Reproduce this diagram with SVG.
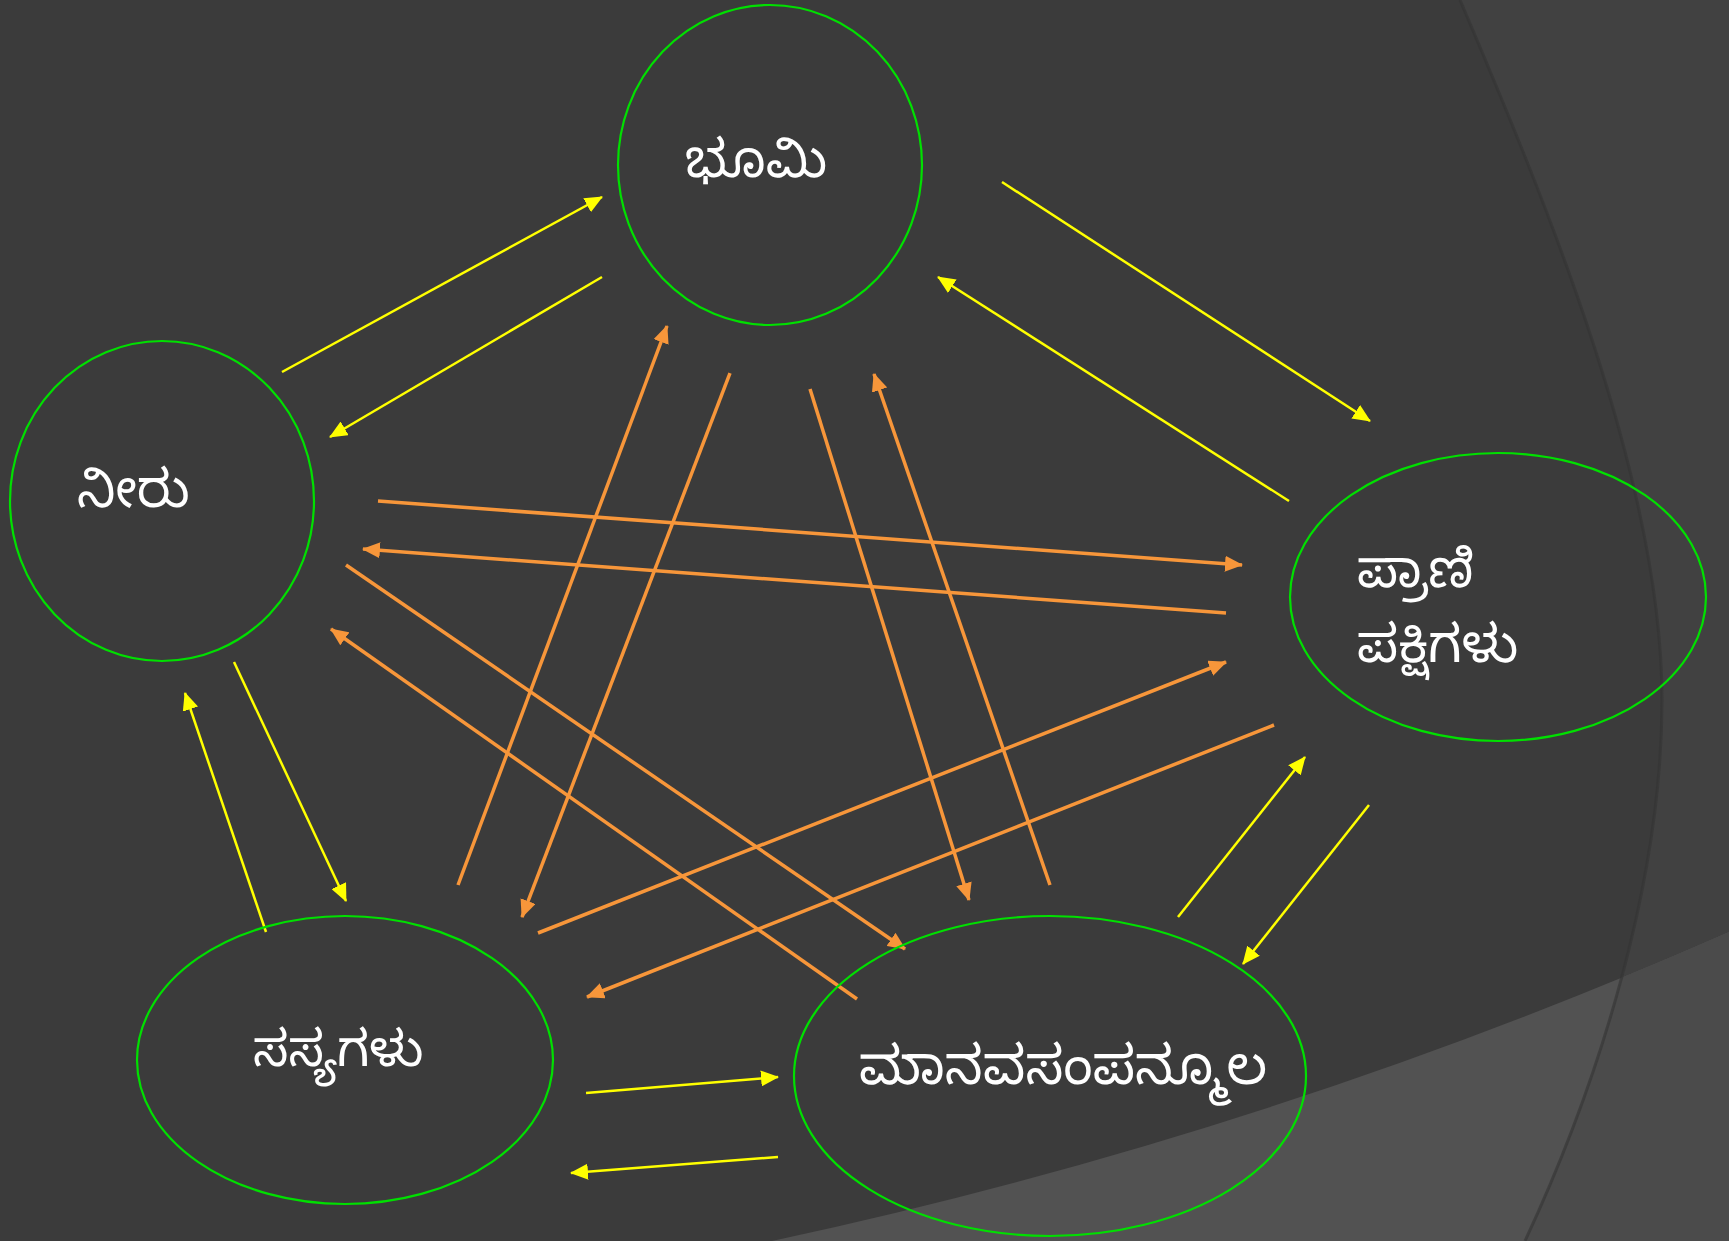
<svg xmlns="http://www.w3.org/2000/svg" width="1729" height="1241" viewBox="0 0 1729 1241">
  <style>
    .node { fill: none; stroke: #00e000; stroke-width: 2.2; }
    .label { fill: #ffffff; font-family: "Noto Sans", "Noto Sans Kannada", "Lohit Kannada", sans-serif; font-size: 52px; }
    .y { stroke: #ffff00; stroke-width: 2.5; marker-end: url(#ay); }
    .o { stroke: #f7963a; stroke-width: 3.5; marker-end: url(#ao); }
  </style>
  <defs>
    <marker id="ay" markerUnits="userSpaceOnUse" markerWidth="18" markerHeight="16" viewBox="0 0 18 16" refX="17" refY="8" orient="auto">
      <path d="M0,0 L18,8 L0,16 z" fill="#ffff00"/>
    </marker>
    <marker id="ao" markerUnits="userSpaceOnUse" markerWidth="18" markerHeight="16" viewBox="0 0 18 16" refX="17" refY="8" orient="auto">
      <path d="M0,0 L18,8 L0,16 z" fill="#f7963a"/>
    </marker>
    <clipPath id="rightClip">
      <path d="M1460,0 C1545,200 1662,480 1662,700 C1662,880 1600,1080 1525,1241 L1729,1241 L1729,0 Z"/>
    </clipPath>
  </defs>

  <g id="background">
    <rect x="0" y="0" width="1729" height="1241" fill="#3b3b3b"/>
    <path d="M1460,0 C1545,200 1662,480 1662,700 C1662,880 1600,1080 1525,1241 L1729,1241 L1729,0 Z" fill="#414141"/>
    <path d="M772,1241 Q1270,1134 1729,932 L1729,1241 Z" fill="#525252"/>
    <path d="M772,1241 Q1270,1134 1729,932 L1729,1241 Z" fill="#4b4b4b" clip-path="url(#rightClip)"/>
    <path d="M1460,0 C1545,200 1662,480 1662,700 C1662,880 1600,1080 1525,1241" fill="none" stroke="#333333" stroke-width="3" opacity="0.6"/>
  </g>

  <g id="connectors">
    <line class="y" x1="282" y1="372" x2="602" y2="197"/>
    <line class="y" x1="602" y1="277" x2="330" y2="437"/>
    <line class="y" x1="1002" y1="182" x2="1370" y2="421"/>
    <line class="y" x1="1289" y1="501" x2="938" y2="277"/>
    <line class="y" x1="234" y1="662" x2="346" y2="901"/>
    <line class="y" x1="266" y1="932" x2="185" y2="693"/>
    <line class="y" x1="586" y1="1093" x2="778" y2="1077"/>
    <line class="y" x1="778" y1="1157" x2="571" y2="1173"/>
    <line class="y" x1="1178" y1="917" x2="1305" y2="757"/>
    <line class="y" x1="1369" y1="805" x2="1243" y2="964"/>

    <line class="o" x1="458" y1="885" x2="667" y2="326"/>
    <line class="o" x1="730" y1="373" x2="522" y2="917"/>
    <line class="o" x1="810" y1="389" x2="969" y2="900"/>
    <line class="o" x1="1050" y1="885" x2="874" y2="374"/>
    <line class="o" x1="378" y1="501" x2="1242" y2="565"/>
    <line class="o" x1="1226" y1="613" x2="363" y2="549"/>
    <line class="o" x1="346" y1="565" x2="905" y2="949"/>
    <line class="o" x1="857" y1="999" x2="331" y2="629"/>
    <line class="o" x1="538" y1="933" x2="1226" y2="662"/>
    <line class="o" x1="1274" y1="725" x2="587" y2="997"/>
  </g>

  <g id="node-bhumi">
    <ellipse class="node" cx="770" cy="165" rx="152" ry="160"/>
    <text class="label" x="685" y="177">ಭೂಮಿ</text>
  </g>
  <g id="node-neeru">
    <ellipse class="node" cx="162" cy="501" rx="152" ry="160"/>
    <text class="label" x="77" y="507">ನೀರು</text>
  </g>
  <g id="node-prani">
    <ellipse class="node" cx="1498" cy="597" rx="208" ry="144"/>
    <text class="label" x="1357" y="587">ಪ್ರಾಣಿ</text>
    <text class="label" x="1357" y="662">ಪಕ್ಷಿಗಳು</text>
  </g>
  <g id="node-sasya">
    <ellipse class="node" cx="345" cy="1060" rx="208" ry="144"/>
    <text class="label" x="253" y="1066" style="font-size:50px">ಸಸ್ಯಗಳು</text>
  </g>
  <g id="node-manava">
    <ellipse class="node" cx="1050" cy="1076" rx="256" ry="160"/>
    <text class="label" x="859" y="1084" style="font-size:53.5px">ಮಾನವಸಂಪನ್ಮೂಲ</text>
  </g>
</svg>
